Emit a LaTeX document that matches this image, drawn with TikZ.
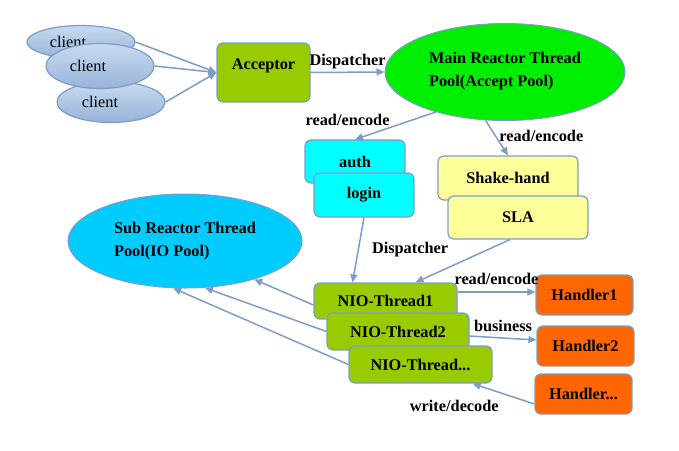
\documentclass[tikz,border=0pt]{standalone}
\usepackage{fontspec}
\setmainfont{Liberation Serif}
\usepackage{tikz}
\usetikzlibrary{positioning}
\usetikzlibrary{shapes.geometric}
\usetikzlibrary{arrows.meta}

\definecolor{edgeblue}{RGB}{125,157,200}
\definecolor{accgreen}{RGB}{153,204,0}
\definecolor{maingreen}{RGB}{0,238,0}
\definecolor{subblue}{RGB}{0,204,255}
\definecolor{authcyan}{RGB}{0,255,255}
\definecolor{shakeyellow}{RGB}{255,255,153}
\definecolor{handorange}{RGB}{255,102,0}
\definecolor{clitop}{RGB}{200,218,240}
\definecolor{clibot}{RGB}{150,180,216}

\tikzset{
  box/.style={draw=edgeblue,line width=1.2pt,rounded corners=6pt,font=\bfseries,inner sep=0pt},
  pool/.style={ellipse,draw=edgeblue,line width=1pt,font=\bfseries,align=left,inner sep=0pt},
  clientnode/.style={ellipse,draw=edgeblue,line width=1.2pt,top color=clitop,bottom color=clibot,minimum width=108pt,inner sep=0pt},
  link/.style={draw=edgeblue,line width=1.5pt,-{Triangle[length=8pt,width=7pt]}},
  tag/.style={font=\bfseries,inner sep=1pt}
}

\begin{document}
\fontsize{16.3}{19}\selectfont
\begin{tikzpicture}[x=1pt,y=-1pt]
  \useasboundingbox (0,0) rectangle (679,450);

  % clients
  \node at (81,42) [clientnode,minimum height=33pt] (client1) {client\hspace*{26pt}};
  \node at (111,102) [clientnode,minimum height=41pt] (client3) {client\hspace*{22pt}};
  \node at (100,66) [clientnode,minimum height=45pt] (client2) {client\hspace*{24pt}};

  \node at (263.5,72.5) [box,fill=accgreen,minimum width=93pt,minimum height=59pt,text height=11pt,text depth=17pt] (acceptor) {Acceptor};

  % reactor pools
  \node at (505,72) [pool,fill=maingreen,minimum width=240pt,minimum height=97pt,text depth=5pt] (mainpool) {
    Main Reactor Thread\\[4pt]
    Pool(Accept Pool)
  };
  \node at (185,241) [pool,fill=subblue,minimum width=234pt,minimum height=94pt] (subpool) {
    Sub Reactor Thread\\[4pt]
    Pool(IO Pool)
  };

  \node at (355,161.5) [box,fill=authcyan,minimum width=100pt,minimum height=43pt] (auth) {auth};
  \node at (364,195) [box,fill=authcyan,minimum width=100pt,minimum height=44pt] (login) {login};

  \node at (508,178) [box,fill=shakeyellow,minimum width=140pt,minimum height=44pt] (shake) {Shake-hand};
  \node at (518,217.5) [box,fill=shakeyellow,minimum width=140pt,minimum height=43pt] (sla) {SLA};

  \node at (385.5,301) [box,fill=accgreen,minimum width=143pt,minimum height=36pt] (nio1) {NIO-Thread1};
  \node at (398,331.5) [box,fill=accgreen,minimum width=142pt,minimum height=37pt] (nio2) {NIO-Thread2};
  \node at (420.5,364.5) [box,fill=accgreen,minimum width=143pt,minimum height=37pt] (nio3) {NIO-Thread...};

  \node at (584.5,295) [box,fill=handorange,minimum width=97pt,minimum height=40pt] (handler1) {Handler1};
  \node at (585.5,346) [box,fill=handorange,minimum width=97pt,minimum height=40pt] (handler2) {Handler2};
  \node at (583.5,394) [box,fill=handorange,minimum width=97pt,minimum height=40pt] (handler3) {Handler...};

  \draw[link] (client1.east) -- (acceptor.west);
  \draw[link] (client2.east) -- (acceptor.west);
  \draw[link] (client3.east) -- (acceptor.west);

  \draw[link] (acceptor.east) -- node[tag,above=2pt] (dispatch1) {Dispatcher} (mainpool.west);
  \draw[link] (mainpool.210) -- node[tag,above left,pos=0.55] (readenc1) {read/encode} (auth.north);
  \draw[link] (mainpool.248) -- node[tag,right=2pt,pos=0.45] (readenc2) {read/encode} (shake.north);

  \draw[link] (login.south) -- node[tag,right=12pt] (dispatch2) {Dispatcher} ([xshift=-33pt]nio1.north);
  \draw[link] ([xshift=-8pt]sla.south) -- ([xshift=30pt]nio1.north);

  \draw[link] ([yshift=9pt]nio1.east) -- node[tag,above=6pt] (readenc3) {read/encode} ([yshift=9pt]nio1.east -| handler1.west);
  \draw[link] ([yshift=-4.5pt]nio2.east) -- node[tag,above=5pt] (business) {business} ([yshift=6pt]handler2.west);
  \draw[link] ([yshift=-10pt]handler3.west) -- node[tag,below left,pos=0.55,yshift=-6pt] (writedec) {write/decode} ([xshift=-20pt]nio3.south east);

  \draw[link] ([yshift=-4pt]nio1.west) -- (subpool.331);
  \draw[link] (nio2.west) -- (subpool.293);
  \draw[link] (nio3.west) -- (subpool.256);
\end{tikzpicture}
\end{document}
